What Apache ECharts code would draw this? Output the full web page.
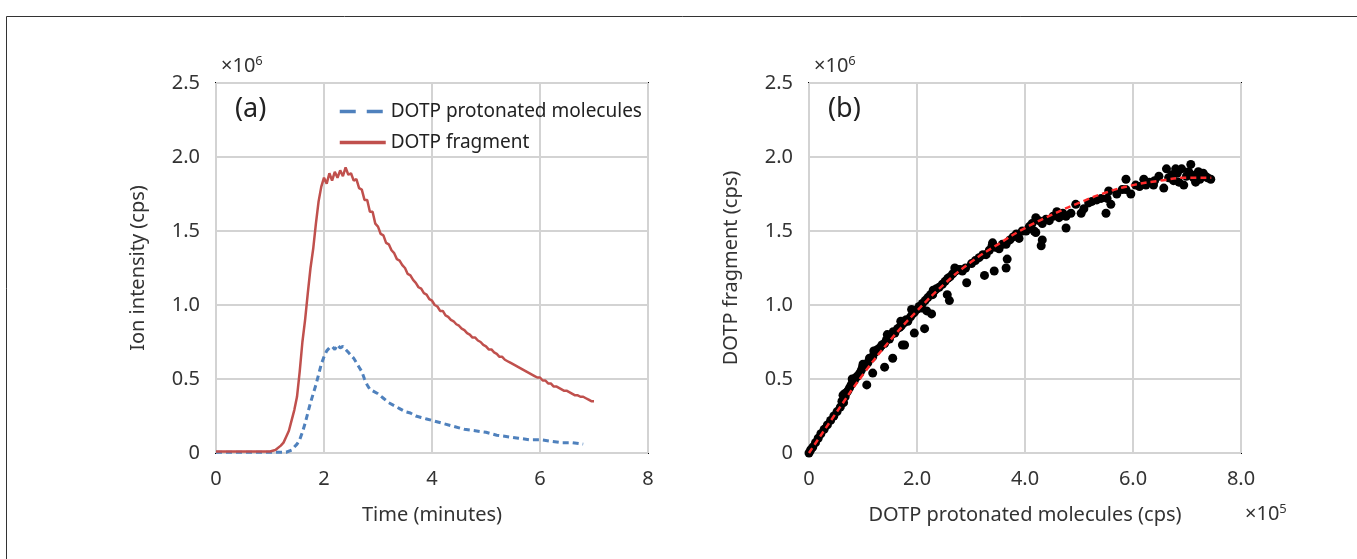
<!DOCTYPE html>
<html><head><meta charset="utf-8">
<script src="https://cdn.jsdelivr.net/npm/echarts@6/dist/echarts.min.js"></script>
<style>html,body{margin:0;padding:0;background:#fff}#c{width:1357px;height:559px}</style>
</head><body><div id="c"></div>
<script>
// Panel (a): time (min) vs ion intensity (x10^6 cps)
const redTime = [0.0,0.5,1.0,1.1,1.2,1.25,1.3,1.35,1.4,1.45,1.5,1.55,1.6,1.65,1.7,1.75,1.8,1.85,1.9,1.95,
2.0,2.05,2.1,2.15,2.2,2.25,2.3,2.35,2.4,2.45,2.5,2.55,2.6,2.65,2.7,2.75,2.8,2.85,2.9,2.95,
3.0,3.05,3.1,3.15,3.2,3.25,3.3,3.35,3.4,3.45,3.5,3.55,3.6,3.65,3.7,3.75,3.8,3.85,3.9,3.95,
4.0,4.05,4.1,4.15,4.2,4.25,4.3,4.35,4.4,4.45,4.5,4.55,4.6,4.65,4.7,4.75,4.8,4.85,4.9,4.95,
5.0,5.05,5.1,5.15,5.2,5.25,5.3,5.35,5.4,5.45,5.5,5.55,5.6,5.65,5.7,5.75,5.8,5.85,5.9,5.95,
6.0,6.05,6.1,6.15,6.2,6.25,6.3,6.35,6.4,6.45,6.5,6.55,6.6,6.65,6.7,6.75,6.8,6.85,6.9,6.95,7.0];
const redVal = [0.01,0.01,0.01,0.02,0.05,0.07,0.11,0.15,0.22,0.29,0.38,0.55,0.75,0.90,1.08,1.25,1.38,1.55,1.70,1.80,
1.86,1.82,1.89,1.84,1.90,1.86,1.91,1.87,1.93,1.88,1.89,1.84,1.85,1.79,1.78,1.71,1.71,1.63,1.63,1.55,
1.53,1.48,1.47,1.42,1.41,1.37,1.35,1.31,1.30,1.27,1.25,1.21,1.20,1.17,1.15,1.12,1.11,1.08,1.07,1.04,
1.03,1.00,0.99,0.96,0.96,0.93,0.92,0.90,0.89,0.87,0.86,0.84,0.83,0.81,0.80,0.78,0.78,0.76,0.75,0.73,
0.72,0.70,0.70,0.68,0.67,0.65,0.65,0.63,0.62,0.61,0.60,0.59,0.58,0.57,0.56,0.55,0.54,0.53,0.52,0.51,
0.51,0.49,0.49,0.47,0.47,0.45,0.45,0.44,0.43,0.42,0.42,0.41,0.40,0.39,0.39,0.38,0.38,0.37,0.36,0.35,0.35];
const blueTime = [0.0,1.0,1.3,1.4,1.5,1.55,1.6,1.65,1.7,1.75,1.8,1.85,1.9,1.95,2.0,2.05,2.1,2.15,2.2,2.25,2.3,2.35,2.4,2.45,2.5,2.55,2.6,2.65,2.7,2.75,2.8,2.85,2.9,3.0,3.1,3.2,3.3,3.4,3.5,3.6,3.7,3.8,3.9,4.0,4.2,4.4,4.6,4.8,5.0,5.2,5.4,5.6,5.8,6.0,6.2,6.4,6.6,6.8];
const blueVal = [0.005,0.005,0.005,0.02,0.06,0.09,0.14,0.20,0.27,0.34,0.40,0.46,0.53,0.60,0.65,0.69,0.71,0.72,0.70,0.73,0.71,0.72,0.70,0.68,0.66,0.64,0.61,0.58,0.55,0.50,0.46,0.43,0.42,0.40,0.37,0.34,0.32,0.30,0.28,0.27,0.25,0.24,0.23,0.22,0.20,0.18,0.16,0.15,0.14,0.12,0.11,0.10,0.09,0.09,0.08,0.07,0.07,0.06];

// Panel (b): protonated (x10^5 cps) vs fragment (x10^6 cps)
const scatX = [0.00,0.03,0.07,0.12,0.17,0.22,0.28,0.34,0.40,0.46,0.52,0.58,
0.61,0.63,0.64,0.67,0.70,0.72,0.75,0.78,0.81,0.84,0.87,0.90,0.94,0.97,0.99,1.03,1.06,1.09,1.12,1.15,1.18,1.22,1.25,1.27,1.31,1.35,1.40,1.43,1.46,1.49,1.53,1.56,1.59,1.64,1.68,1.71,1.76,1.80,1.83,1.88,1.92,1.95,2.00,2.04,2.08,2.10,2.15,2.20,2.25,2.29,2.33,2.36,2.41,2.47,2.52,2.57,2.61,2.66,2.71,2.75,2.80,2.84,2.90,3.01,3.08,3.15,3.22,3.28,3.34,3.39,3.45,3.52,3.58,3.65,3.72,3.78,3.84,3.89,3.95,4.02,4.08,4.13,4.17,4.20,4.26,4.32,4.39,4.45,4.52,4.59,4.63,4.70,4.76,4.85,4.94,5.04,5.09,5.18,5.24,5.33,5.41,5.52,5.55,5.59,5.70,5.80,5.87,5.87,5.96,6.05,6.12,6.20,6.24,6.30,6.38,6.48,6.62,6.66,6.72,6.75,6.79,6.82,6.85,6.90,6.94,6.99,7.03,7.07,7.08,7.12,7.16,7.21,7.24,7.27,7.30,7.34,7.38,7.44,
1.07,1.18,1.40,1.55,1.73,1.77,1.95,2.14,2.18,2.27,2.56,2.60,2.92,3.25,3.43,3.65,3.67,4.30,4.32,4.20,4.76,5.50,6.57,6.40,
0.66,0.80,1.00,1.20,1.45,1.70,1.90,2.30,2.70,3.40];
const scatY = [0.00,0.02,0.04,0.07,0.10,0.13,0.16,0.19,0.22,0.25,0.28,0.31,
0.35,0.39,0.34,0.38,0.41,0.42,0.44,0.46,0.48,0.49,0.51,0.52,0.54,0.56,0.58,0.59,0.60,0.61,0.64,0.64,0.65,0.68,0.69,0.70,0.71,0.73,0.74,0.76,0.78,0.77,0.80,0.82,0.81,0.84,0.85,0.86,0.88,0.90,0.89,0.92,0.94,0.95,0.97,0.99,0.98,1.01,1.03,1.05,1.07,1.07,1.10,1.11,1.12,1.14,1.16,1.18,1.19,1.21,1.23,1.24,1.24,1.23,1.25,1.28,1.30,1.32,1.34,1.34,1.37,1.40,1.39,1.38,1.41,1.41,1.44,1.46,1.48,1.45,1.50,1.50,1.53,1.55,1.50,1.59,1.57,1.55,1.58,1.57,1.60,1.63,1.59,1.62,1.60,1.62,1.68,1.62,1.65,1.69,1.70,1.71,1.72,1.72,1.77,1.68,1.75,1.78,1.85,1.78,1.75,1.81,1.80,1.85,1.81,1.83,1.81,1.87,1.92,1.86,1.88,1.84,1.92,1.89,1.83,1.92,1.81,1.87,1.90,1.95,1.88,1.86,1.83,1.90,1.85,1.87,1.89,1.87,1.86,1.85,
0.46,0.54,0.58,0.64,0.73,0.73,0.81,0.84,0.96,0.94,1.07,1.03,1.15,1.20,1.23,1.25,1.31,1.40,1.44,1.49,1.52,1.62,1.79,1.84,
0.40,0.50,0.60,0.69,0.80,0.89,0.97,1.10,1.25,1.42];
const fitX = [0,0.5,1.0,1.5,2.0,2.5,3.0,3.5,4.0,4.5,5.0,5.5,6.0,6.5,7.0,7.45];
const fitY = [0,0.27,0.53,0.76,0.96,1.14,1.29,1.41,1.52,1.61,1.69,1.76,1.81,1.84,1.86,1.86];

const yTicks = [0,0.5,1.0,1.5,2.0,2.5];
const xTicksA = [0,2,4,6,8];
const xTicksB = [0,2,4,6,8];

const zip = (a,b) => a.map((v,i)=>[v,b[i]]);
const FONT = '"Noto Sans", "Liberation Sans", sans-serif';
const TXT = '#333';
const gridLine = {show:true, lineStyle:{color:'#d3d3d3', width:2}};
const lbl = (fmt) => ({color:TXT, fontSize:20, fontFamily:FONT, formatter:fmt, margin:16});
const yFmt = v => v===0 ? '0' : v.toFixed(1);
const sup = {fontSize:20, fontWeight:'normal', color:TXT, fontFamily:FONT, rich:{s:{fontSize:13, verticalAlign:'top', color:TXT, padding:[0,0,10,0]}}};

const chart = echarts.init(document.getElementById('c'), null, {renderer:'canvas'});
chart.setOption({
  animation:false,
  backgroundColor:'#fff',
  textStyle:{fontFamily:FONT},
  grid:[
    {left:216, top:83, width:432, height:370, show:true, borderColor:'#000', borderWidth:2, backgroundColor:'transparent'},
    {left:809, top:83, width:432, height:370, show:true, borderColor:'#000', borderWidth:2, backgroundColor:'transparent'}
  ],
  xAxis:[
    {type:'value', gridIndex:0, min:0, max:8, interval:2, axisLine:{show:false}, axisTick:{show:false},
     splitLine:gridLine, axisLabel:lbl(v=>String(v)),
     name:'Time (minutes)', nameLocation:'middle', nameGap:52, nameTextStyle:{color:TXT,fontSize:20,fontFamily:FONT}},
    {type:'value', gridIndex:1, min:0, max:8, interval:2, axisLine:{show:false}, axisTick:{show:false},
     splitLine:gridLine, axisLabel:lbl(yFmt),
     name:'DOTP protonated molecules (cps)', nameLocation:'middle', nameGap:52, nameTextStyle:{color:TXT,fontSize:20,fontFamily:FONT}}
  ],
  yAxis:[
    {type:'value', gridIndex:0, min:0, max:2.5, interval:0.5, axisLine:{show:false}, axisTick:{show:false},
     splitLine:gridLine, axisLabel:lbl(yFmt),
     name:'Ion intensity (cps)', nameLocation:'middle', nameGap:68, nameTextStyle:{color:TXT,fontSize:20,fontFamily:FONT}},
    {type:'value', gridIndex:1, min:0, max:2.5, interval:0.5, axisLine:{show:false}, axisTick:{show:false},
     splitLine:gridLine, axisLabel:lbl(yFmt),
     name:'DOTP fragment (cps)', nameLocation:'middle', nameGap:68, nameTextStyle:{color:TXT,fontSize:20,fontFamily:FONT}}
  ],
  legend:{
    show:true, orient:'vertical', left:333, top:97, itemWidth:46, itemHeight:18, itemGap:12,
    itemStyle:{opacity:0},
    textStyle:{color:'#222', fontSize:19, fontFamily:FONT},
    data:[
      {name:'DOTP protonated molecules', lineStyle:{type:[16,11], width:3.5}},
      {name:'DOTP fragment', lineStyle:{width:3.5}}
    ]
  },
  title:[
    {text:'(a)', left:230, top:91, textStyle:{fontSize:27, fontWeight:'normal', color:'#222', fontFamily:FONT}},
    {text:'(b)', left:823, top:91, textStyle:{fontSize:27, fontWeight:'normal', color:'#222', fontFamily:FONT}},
    {text:'×10{s|6}', left:216, top:50, textStyle:sup},
    {text:'×10{s|6}', left:809, top:50, textStyle:sup},
    {text:'×10{s|5}', left:1240, top:498, textStyle:sup}
  ],
  graphic:[
    {type:'rect', left:4, top:14, shape:{width:1400, height:600}, style:{fill:'none', stroke:'#333', lineWidth:1}, silent:true, z:-10}
  ],
  series:[
    {name:'DOTP protonated molecules', type:'line', xAxisIndex:0, yAxisIndex:0, data:zip(blueTime,blueVal),
     symbol:'none', lineStyle:{color:'#4F81BD', width:3, type:[6,4]}, itemStyle:{color:'#4F81BD'}},
    {name:'DOTP fragment', type:'line', xAxisIndex:0, yAxisIndex:0, data:zip(redTime,redVal),
     symbol:'none', lineStyle:{color:'#C0504D', width:2.5}, itemStyle:{color:'#C0504D'}},
    {name:'scatter', type:'scatter', xAxisIndex:1, yAxisIndex:1, data:zip(scatX,scatY),
     symbolSize:9, itemStyle:{color:'#000', opacity:1}},
    {name:'fit', type:'line', xAxisIndex:1, yAxisIndex:1, data:zip(fitX,fitY), smooth:true,
     symbol:'none', lineStyle:{color:'#FF2A2A', width:2.5, type:[6,4]}, z:5}
  ]
});
</script></body></html>
